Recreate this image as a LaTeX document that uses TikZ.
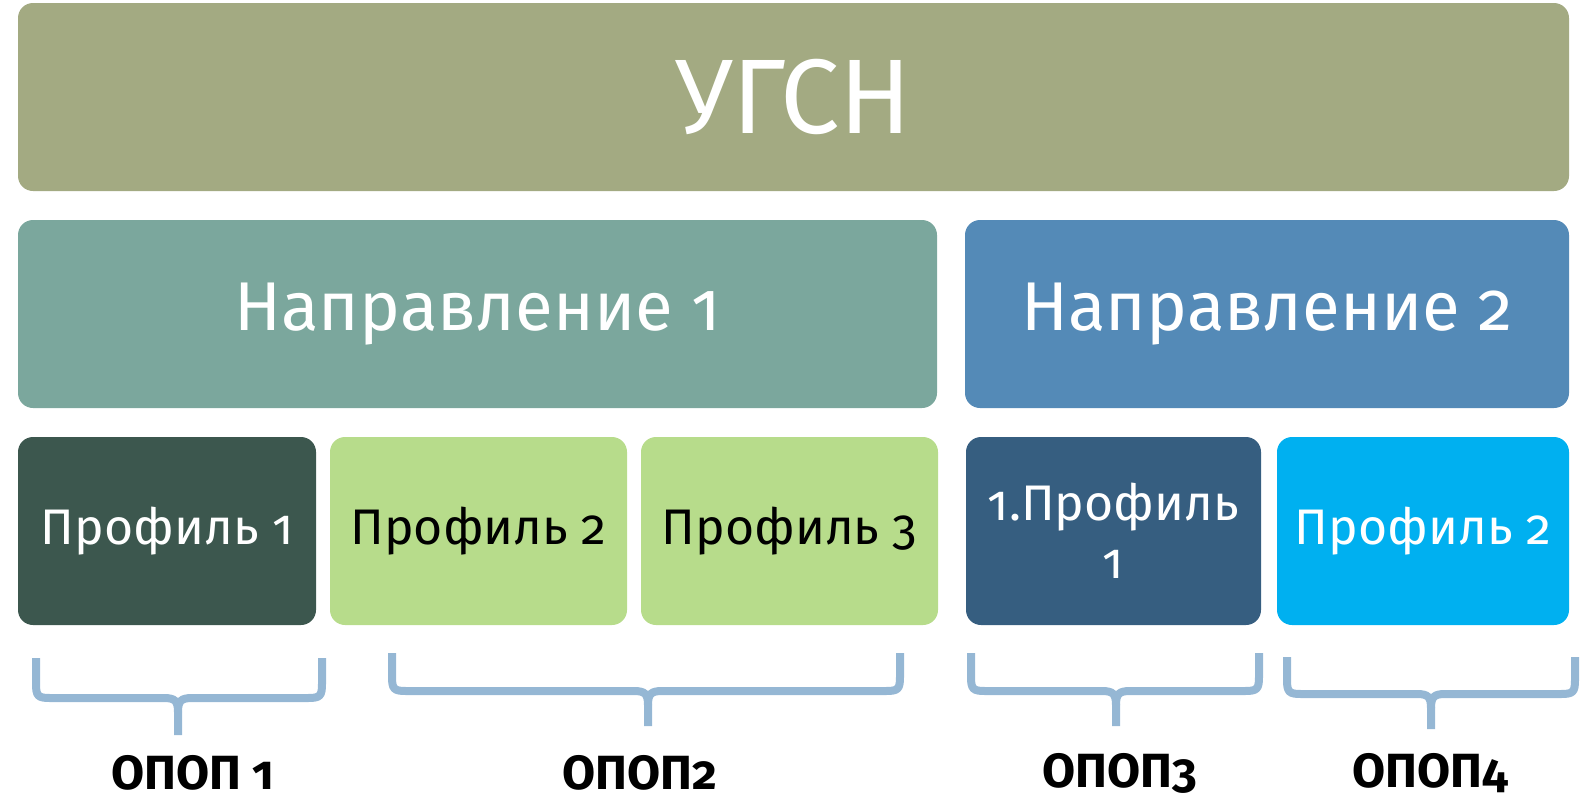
\documentclass[tikz,border=0pt]{standalone}
\usepackage{fontspec}
\setmainfont{Fira Sans}[Numbers=OldStyle]
\definecolor{cUgsn}{HTML}{A3AA82}
\definecolor{cNa}{HTML}{7BA79D}
\definecolor{cNb}{HTML}{548AB7}
\definecolor{cPa}{HTML}{3C574E}
\definecolor{cPb}{HTML}{B7DC8B}
\definecolor{cQa}{HTML}{365E80}
\definecolor{cQb}{HTML}{00B0F0}
\definecolor{cBr}{HTML}{95B7D4}
\tikzset{
  box/.style={rounded corners=15pt, inner sep=0pt, minimum height=188pt, align=center},
  bigtxt/.style={font=\fontsize{106}{110}\selectfont, text=white},
  midtxt/.style={font=\fontsize{69}{80}\selectfont, text=white},
  smalltxt/.style={font=\fontsize{50}{58}\selectfont},
  brace/.style={draw=cBr, line width=8pt, line join=round},
  lbl/.style={font=\bfseries\fontsize{48}{52}\selectfont, text=black, inner sep=0pt}
}
\begin{document}
\begin{tikzpicture}[x=1pt,y=-1pt]
\useasboundingbox (0,0) rectangle (1586,801);
\node[box, fill=cUgsn, minimum width=1551pt, bigtxt] (ugsn) at (793.5,97) {УГСН};
\node[box, fill=cNa, minimum width=919pt, midtxt] (na) at (477.5,314) {Направление 1};
\node[box, fill=cNb, minimum width=604pt, midtxt] (nb) at (1267,314) {Направление 2};
\node[box, fill=cPa, minimum width=298pt, smalltxt, text=white] (pa) at (167,531) {Профиль 1};
\node[box, fill=cPb, minimum width=297pt, smalltxt, text=black] (pb) at (478.5,531) {Профиль 2};
\node[box, fill=cPb, minimum width=297pt, smalltxt, text=black] (pc) at (789.5,531) {Профиль 3};
\node[box, fill=cQa, minimum width=295pt, smalltxt, text=white] (qa) at (1113.5,531) {1.Профиль\\1};
\node[box, fill=cQb, minimum width=292pt, smalltxt, text=white] (qb) at (1423,531) {Профиль 2};
% braces
\foreach \L/\R/\C/\T/\H/\B/\n in {36/322/178/658/698/735/a, 392/900/648/653/691/726/b, 971/1259/1116/653/691/726/c, 1287/1575/1431/657/694/729/d}{
  \draw[brace] (\L,\T) -- (\L,\H-14) .. controls (\L,\H-2) and (\L+2,\H) .. (\L+14,\H) -- (\C-14,\H)
    .. controls (\C-3,\H) and (\C,\H+3) .. (\C,\H+14) -- (\C,\B);
  \draw[brace] (\R,\T) -- (\R,\H-14) .. controls (\R,\H-2) and (\R-2,\H) .. (\R-14,\H) -- (\C+14,\H)
    .. controls (\C+3,\H) and (\C,\H+3) .. (\C,\H+14);
}
\node[lbl] (la) at (193,773) {ОПОП 1};
\node[lbl] (lb) at (640,773) {ОПОП2};
\node[lbl] (lc) at (1120,773) {ОПОП3};
\node[lbl] (ld) at (1430,773) {ОПОП4};
\end{tikzpicture}
\end{document}
